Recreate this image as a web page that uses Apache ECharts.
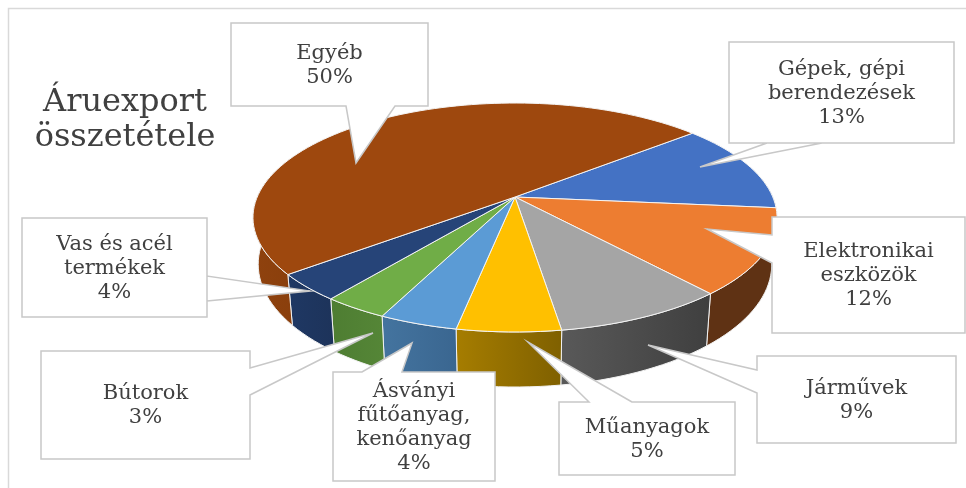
<!DOCTYPE html>
<html><head><meta charset="utf-8">
<style>html,body{margin:0;padding:0;background:#fff}#c{width:966px;height:488px}</style>
<script src="https://cdn.jsdelivr.net/npm/echarts@6/dist/echarts.min.js"></script>
</head><body><div id="c"></div>
<script>
// ---- data ----
const categories = ['Gépek, gépi\nberendezések','Elektronikai\neszközök','Járművek','Műanyagok','Ásványi\nfűtőanyag,\nkenőanyag','Bútorok','Vas és acél\ntermékek','Egyéb'];
const shares     = [12.6, 12.1, 9.0, 5.4, 4.1, 3.4, 3.8, 49.6];
const topColors  = ['#4472C4','#ED7D31','#A5A5A5','#FFC000','#5B9BD5','#70AD47','#264478','#9E480E'];
const wallFrom   = ['#2f5597','#5f3214','#595959','#a67d00','#44749f','#4e7d32','#1f3864','#8f420e'];
const wallTo     = ['#2f5597','#5f3214','#3f3f3f','#7f6000','#3a6690','#558637','#1d335a','#8a3f0c'];
// callout geometry: box [x0,y0,x1,y1], tail points [a, tip, b] and the edge the tail leaves from
const boxes = [
  {r:[729,42,954,143],  edge:'b', a:[822,143], tip:[700,167], b:[767,143]},
  {r:[772,217,965,333], edge:'l', a:[772,235], tip:[707,229], b:[772,263]},
  {r:[757,356,956,443], edge:'l', a:[757,370], tip:[648,345], b:[757,393]},
  {r:[559,402,735,475], edge:'t', a:[589,402], tip:[528,342], b:[632,402]},
  {r:[333,372,495,481], edge:'t', a:[362,372], tip:[412,343], b:[402,372]},
  {r:[41,351,250,459],  edge:'r', a:[250,368], tip:[373,333], b:[250,395]},
  {r:[22,218,207,317],  edge:'r', a:[207,276], tip:[310,291], b:[207,301]},
  {r:[231,23,428,106],  edge:'b', a:[395,106], tip:[356,163], b:[346,106]}
];
const titleText = 'Áruexport\nösszetétele';
// ---- 3D pie projection ----
const CX=515, CY=197, A=257.8, B=110.8, K=0.179, DEPTH=45.2, BOTTOM_X=0.98, START=50.1;
const total = shares.reduce((s,v)=>s+v,0);
function project(deg, lower){
  const t=deg*Math.PI/180, u=Math.sin(t), v=-Math.cos(t), w=1-K*v;
  return lower ? [CX+BOTTOM_X*A*u/w, CY+B*v/w+DEPTH/w] : [CX+A*u/w, CY+B*v/w];
}
function sliceAngles(i){
  let s=START; for(let j=0;j<i;j++) s+=shares[j]/total*360;
  return [s, s+shares[i]/total*360];
}
function arc(a0,a1,lower){
  const n=Math.max(2,Math.ceil((a1-a0)/2)), p=[];
  for(let i=0;i<=n;i++) p.push(project(a0+(a1-a0)*i/n,lower));
  return p;
}
function renderWall(params){
  const i=params.dataIndex, [a0,a1]=sliceAngles(i);
  // only the part of the rim that faces the viewer
  const lo=Math.max(a0,80.5), hi=Math.min(a1,279.5);
  const kids=[];
  if(hi>lo){
    const topA=arc(lo,hi,false), botA=arc(lo,hi,true).reverse();
    kids.push({type:'polygon',shape:{points:topA.concat(botA)},
      style:{fill:new echarts.graphic.LinearGradient(0,0,1,0,[{offset:0,color:wallFrom[i]},{offset:1,color:wallTo[i]}]),stroke:'#f2f2f2',lineWidth:1}});
  }
  return {type:'group',children:kids};
}
function renderTop(params){
  const i=params.dataIndex, [a0,a1]=sliceAngles(i);
  return {type:'polygon',shape:{points:[[CX,CY]].concat(arc(a0,a1,false))},
    style:{fill:topColors[i],stroke:'#f4f4f4',lineWidth:1,lineJoin:'round'}};
}
function orderCorners(corners,c){
  const d=(p,q)=>Math.hypot(p[0]-q[0],p[1]-q[1]);
  return d(corners[0],c.a)<d(corners[3],c.a)?corners:corners.slice().reverse();
}
function renderCallout(params,api){
  const i=params.dataIndex, c=boxes[i], [x0,y0,x1,y1]=c.r;
  const corners={t:[[x1,y0],[x1,y1],[x0,y1],[x0,y0]],r:[[x1,y1],[x0,y1],[x0,y0],[x1,y0]],
                 b:[[x0,y1],[x0,y0],[x1,y0],[x1,y1]],l:[[x0,y0],[x1,y0],[x1,y1],[x0,y1]]}[c.edge];
  const pts=[c.b,c.tip,c.a].concat(orderCorners(corners,c));
  const pct=Math.round(api.value(0)/total*100)+'%';
  return {type:'group',children:[
    {type:'polygon',shape:{points:pts},style:{fill:'#fff',stroke:'#c8c8c8',lineWidth:1.5,lineJoin:'miter'}},
    {type:'text',style:{x:(x0+x1)/2,y:(y0+y1)/2+1,text:categories[i]+'\n'+pct,align:'center',verticalAlign:'middle',
      font:'21px "DejaVu Serif"',lineHeight:24,fill:'#404040'}}
  ]};
}
const chart=echarts.init(document.getElementById('c'),null,{renderer:'canvas'});
const rows=shares.map((v,i)=>({name:categories[i],value:[v]}));
chart.setOption({
  animation:false,
  backgroundColor:'#ffffff',
  title:{text:titleText,left:120,top:80,textAlign:'center',
    textStyle:{fontFamily:'DejaVu Serif',fontWeight:'normal',fontSize:32,lineHeight:35,color:'#404040'}},
  graphic:[{type:'polyline',silent:true,shape:{points:[[8.5,488],[8.5,8.5],[966,8.5]]},style:{stroke:'#d9d9d9',lineWidth:1.5,fill:null}}],
  series:[
    {type:'custom',coordinateSystem:'none',z:2,data:rows,renderItem:renderWall,silent:true},
    {type:'custom',coordinateSystem:'none',z:3,data:rows,renderItem:renderTop,silent:true},
    {type:'custom',coordinateSystem:'none',z:4,data:rows,renderItem:renderCallout,silent:true}
  ]
});
</script></body></html>
